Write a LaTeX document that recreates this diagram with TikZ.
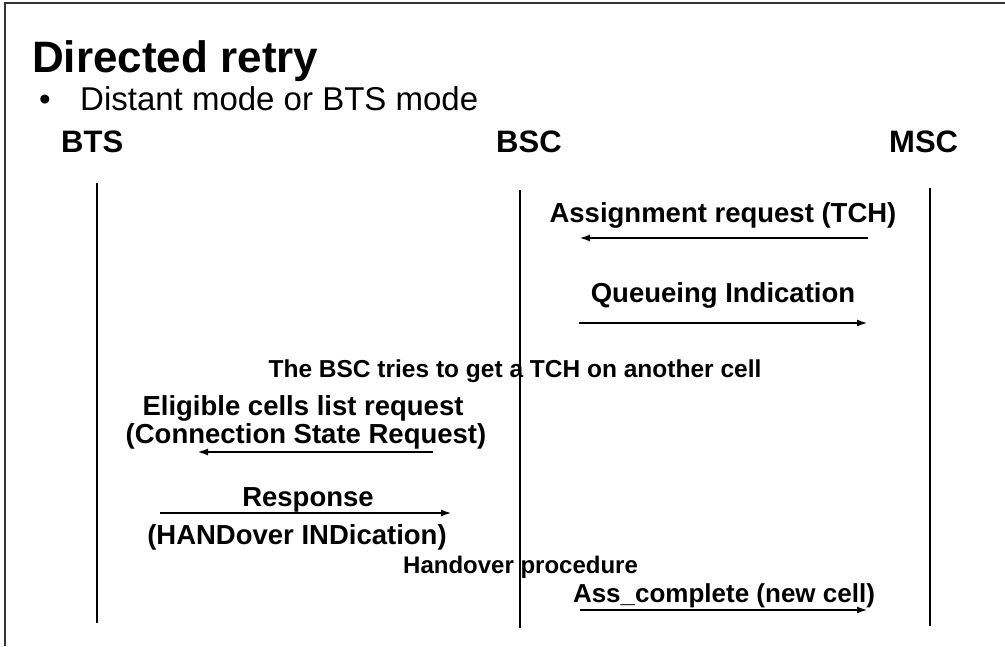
\documentclass[tikz,border=0pt]{standalone}
\usepackage{fontspec}
\setmainfont{Liberation Sans}
\usetikzlibrary{arrows.meta}
\begin{document}
\begin{tikzpicture}[x=1pt,y=-1pt,
  frame/.style={line width=1.8pt,black!80},
  life/.style={line width=2.8pt},
  msg/.style={line width=2.4pt,-{Latex[length=11pt,width=7pt]}},
  lbl/.style={inner sep=0pt,anchor=base,font=\fontsize{27.5}{30}\selectfont\bfseries},
  note/.style={inner sep=0pt,anchor=base,font=\fontsize{24.5}{28}\selectfont\bfseries},
  ent/.style={inner sep=0pt,anchor=base west,font=\fontsize{31}{34}\selectfont\bfseries}]
\useasboundingbox (0,0) rectangle (1005,646);
% frame (top and left edges only)
\draw[frame] (5,646) -- (5,3) -- (1005,3);
% title and bullet
\node[inner sep=0pt,anchor=base west,font=\fontsize{44}{48}\selectfont\bfseries] (title) at (32,72) {Directed retry};
\node[inner sep=0pt,anchor=base west,font=\fontsize{33}{36}\selectfont] (bul) at (39,110) {•};
\node[inner sep=0pt,anchor=base west,font=\fontsize{33}{36}\selectfont] (sub) at (80,110) {Distant mode or BTS mode};
% entities
\node[ent] (bts) at (61,152) {BTS};
\node[ent] (bsc) at (496,152) {BSC};
\node[ent] (msc) at (889,152) {MSC};
% lifelines
\coordinate (btsT) at (97,183); \coordinate (btsB) at (97,623);
\coordinate (bscT) at (520,190); \coordinate (bscB) at (520,628);
\coordinate (mscT) at (930,188); \coordinate (mscB) at (930,626);
\draw[life] (btsT) -- (btsB);
\draw[life] (bscT) -- (bscB);
\draw[life] (mscT) -- (mscB);
% message end points
\coordinate (a1) at (868,238); \coordinate (a2) at (579,238);
\coordinate (q1) at (579,323); \coordinate (q2) at (868,323);
\coordinate (e1) at (433,452); \coordinate (e2) at (197,452);
\coordinate (r1) at (160,513); \coordinate (r2) at (452,513);
\coordinate (c1) at (580,610); \coordinate (c2) at (868,610);
% labels
\node[lbl] (assreq) at (723,222) {Assignment request (TCH)};
\node[lbl] (queue) at (723,302) {Queueing Indication};
\node[note] (tries) at (515,377) {The BSC tries to get a TCH on another cell};
\node[lbl] (elig) at (303,415) {Eligible cells list request};
\node[lbl] (csr) at (306,443) {(Connection State Request)};
\node[lbl] (resp) at (308,506) {Response};
\node[lbl] (hoind) at (297,544) {(HANDover INDication)};
\node[note,anchor=base west,font=\fontsize{24}{28}\selectfont\bfseries] (hoproc) at (403,573) {Handover procedure};
\node[lbl,font=\fontsize{26}{30}\selectfont\bfseries] (asscomp) at (724,602) {Ass\_complete (new cell)};
% messages
\draw[msg] (a1) -- (a2);
\draw[msg] (q1) -- (q2);
\draw[msg] (e1) -- (e2);
\draw[msg] (r1) -- (r2);
\draw[msg] (c1) -- (c2);
\end{tikzpicture}
\end{document}
